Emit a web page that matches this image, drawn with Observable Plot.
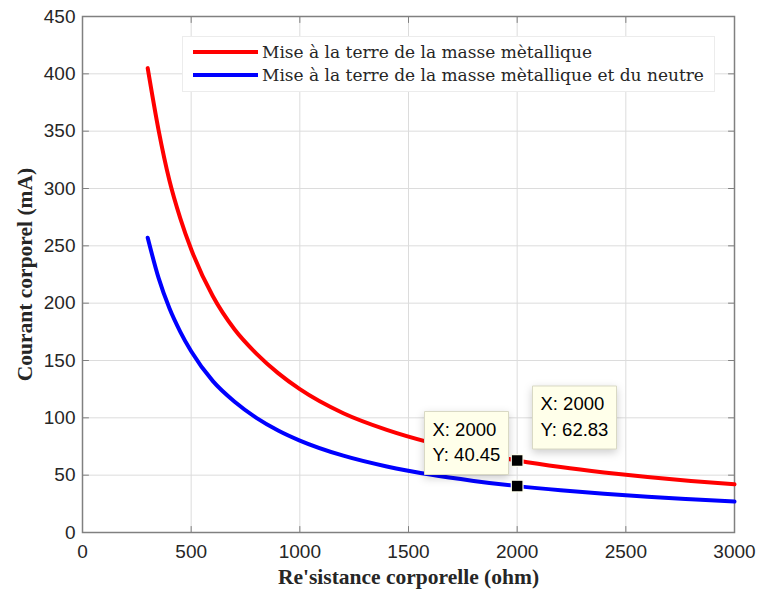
<!DOCTYPE html>
<html>
<head>
<meta charset="utf-8">
<script src="https://cdn.jsdelivr.net/npm/d3@7"></script>
<script src="https://cdn.jsdelivr.net/npm/@observablehq/plot@0.6"></script>
<style>
  html, body { margin: 0; padding: 0; background: #fff; }
  #wrap { position: relative; width: 757px; height: 594px; }
  #legend {
    position: absolute; left: 182px; top: 36px; width: 533px; height: 56px;
    box-sizing: border-box; background: #fff; border: 1px solid #ececec;
    font-family: "DejaVu Serif", serif; font-size: 17px; color: #262626;
  }
  #legend .row { position: absolute; left: 10px; height: 23px; display: flex; align-items: center; white-space: nowrap; }
  #legend .sw { display: inline-block; width: 65px; height: 4px; margin-right: 4px; }
</style>
</head>
<body>
<div id="wrap"></div>
<script>
// Body resistance (ohm) and resulting body current (mA) for the two earthing schemes
const resistance = [300, 350, 400, 450, 500, 600, 700, 800, 900, 1000, 1200, 1400, 1600, 1800, 2000, 2200, 2400, 2600, 2800, 3000];
const currentMasse = [405, 351, 307, 274, 247, 206, 177, 156, 139, 125, 104, 89.5, 78.4, 69.8, 62.83, 57.1, 52.4, 48.4, 45.0, 42.0];
const currentMasseNeutre = [257, 222, 195.5, 175, 158, 132, 114, 100, 89, 80.2, 67, 57.6, 50.5, 45, 40.45, 36.8, 33.8, 31.2, 29, 27];

const seriesNames = [
  "Mise à la terre de la masse mètallique",
  "Mise à la terre de la masse mètallique et du neutre"
];
const seriesColors = ["#ff0000", "#0000ff"];

const xTicks = [0, 500, 1000, 1500, 2000, 2500, 3000];
const yTicks = [0, 50, 100, 150, 200, 250, 300, 350, 400, 450];

const xTitle = "Re'sistance corporelle (ohm)";
const yTitle = "Courant corporel (mA)";

// Data tips shown at R = 2000 ohm
const tipX = 2000;
const tipMasse = 62.83;
const tipMasseNeutre = 40.45;

const rows = [];
resistance.forEach((r, i) => {
  rows.push({R: r, I: currentMasse[i], s: seriesNames[0]});
  rows.push({R: r, I: currentMasseNeutre[i], s: seriesNames[1]});
});

const tips = [
  {R: tipX, I: tipMasse},
  {R: tipX, I: tipMasseNeutre}
];
const tipText = d => `X: ${d.R}\nY: ${d.I.toFixed(2)}`;

const numFont = "'Liberation Sans', Arial, sans-serif";
const titleFont = "'Liberation Serif', 'Times New Roman', serif";

// Inward tick marks on all four sides
const tickShape = {draw(ctx, l) { ctx.moveTo(0, 0); ctx.lineTo(0, -l); }};
const tickStyle = {length: 6, anchor: "start", shape: tickShape, stroke: "#808080", strokeWidth: 1};

const tipStyle = {
  x: "R", y: "I", title: tipText, pointerSize: 0, textPadding: 8, lineHeight: 1.38,
  fill: "#ffffea", stroke: "#d9d9c4", fontSize: 18.5, fontFamily: numFont, textAnchor: "start"
};

const chart = Plot.plot({
  width: 757,
  height: 594,
  marginLeft: 82,
  marginRight: 23,
  marginTop: 16,
  marginBottom: 62,
  style: {background: "#fff", overflow: "visible"},
  x: {domain: [0, 3000]},
  y: {domain: [0, 450]},
  color: {domain: seriesNames, range: seriesColors},
  marks: [
    Plot.gridX(xTicks, {stroke: "#dcdcdc", strokeOpacity: 1}),
    Plot.gridY(yTicks, {stroke: "#dcdcdc", strokeOpacity: 1}),
    Plot.vector(xTicks, {x: d => d, frameAnchor: "bottom", rotate: 0, ...tickStyle}),
    Plot.vector(xTicks, {x: d => d, frameAnchor: "top", rotate: 180, ...tickStyle}),
    Plot.vector(yTicks, {y: d => d, frameAnchor: "left", rotate: 90, ...tickStyle}),
    Plot.vector(yTicks, {y: d => d, frameAnchor: "right", rotate: -90, ...tickStyle}),
    Plot.axisX({ticks: xTicks, tickFormat: d => String(d), tickSize: 0, tickPadding: 12, label: null, fontSize: 19, fontFamily: numFont, color: "#262626"}),
    Plot.axisY({ticks: yTicks, tickFormat: d => String(d), tickSize: 0, tickPadding: 7, label: null, fontSize: 19, fontFamily: numFont, color: "#262626"}),
    Plot.frame({stroke: "#808080", strokeWidth: 1.5}),
    Plot.line(rows, {x: "R", y: "I", z: "s", stroke: "s", strokeWidth: 4, curve: "monotone-x"}),
    Plot.dot(tips, {x: "R", y: "I", symbol: "square", r: 6.6, fill: "#000", stroke: "#fffff0", strokeWidth: 1.2}),
    Plot.tip([tips[0]], {...tipStyle, anchor: "bottom-left", dx: 15, dy: -11.5}),
    Plot.tip([tips[1]], {...tipStyle, anchor: "bottom-right", dx: -9, dy: -12}),
    Plot.text([xTitle], {text: d => d, frameAnchor: "bottom", dy: 51, fontSize: 21.5, fontWeight: "bold", fontFamily: titleFont, fill: "#262626", letterSpacing: 1}),
    Plot.text([yTitle], {text: d => d, frameAnchor: "left", textAnchor: "middle", rotate: -90, dx: -57, fontSize: 21.5, fontWeight: "bold", fontFamily: titleFont, fill: "#262626", letterSpacing: 1})
  ]
});

const wrap = document.getElementById("wrap");
wrap.appendChild(chart);

// Legend box drawn inside the axes, top right
const legend = document.createElement("div");
legend.id = "legend";
seriesNames.forEach((name, i) => {
  const row = document.createElement("div");
  row.className = "row";
  row.style.top = (i === 0 ? 3 : 26) + "px";
  const sw = document.createElement("span");
  sw.className = "sw";
  sw.style.background = seriesColors[i];
  const label = document.createElement("span");
  label.textContent = name;
  row.appendChild(sw);
  row.appendChild(label);
  legend.appendChild(row);
});
wrap.appendChild(legend);
</script>
</body>
</html>
